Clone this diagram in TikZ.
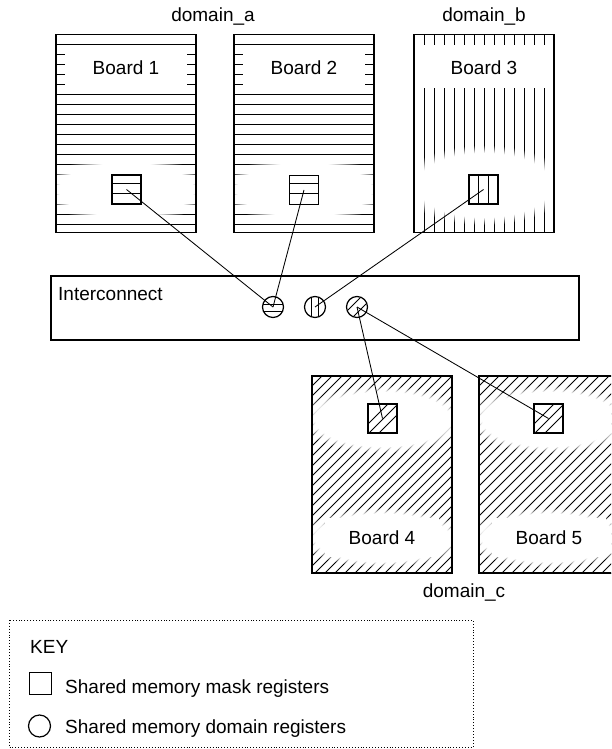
\documentclass[tikz,border=0pt]{standalone}
\usepackage{fontspec}
\setmainfont{Liberation Sans}
\usetikzlibrary{fadings}
\begin{document}
\begin{tikzpicture}[x=1pt,y=-1pt,
  lbl/.style={font=\fontsize{19}{23}\selectfont, inner sep=0pt},
  boardline/.style={draw=black, line width=1.8pt},
  hatch/.style={line width=0.95pt},
  link/.style={line width=0.85pt},
  glow/.style={white, path fading=circle with fuzzy edge 20 percent},
  regsq/.style={draw=black, fill=white, line width=1.6pt, minimum size=29pt, inner sep=0pt, outer sep=0pt},
  regci/.style={circle, draw=black, fill=white, line width=1.2pt, minimum size=21pt, inner sep=0pt, outer sep=0pt},
  hsq/.style={regsq, path picture={\begin{scope}[shift={(path picture bounding box.center)}]
     \draw[hatch] (-20,-6.5) -- (20,-6.5) (-20,3.5) -- (20,3.5);\end{scope}}},
  vsq/.style={regsq, path picture={\begin{scope}[shift={(path picture bounding box.center)}]
     \draw[hatch] (-5,-20) -- (-5,20) (5,-20) -- (5,20);\end{scope}}},
  dsq/.style={regsq, path picture={\begin{scope}[shift={(path picture bounding box.center)}]
     \foreach \d in {-9,1,11} \draw[hatch] (\d-25,25) -- (\d+25,-25);\end{scope}}},
  hci/.style={regci, path picture={\begin{scope}[shift={(path picture bounding box.center)}]
     \draw[hatch] (-15,-2.5) -- (15,-2.5) (-15,4) -- (15,4);\end{scope}}},
  vci/.style={regci, path picture={\begin{scope}[shift={(path picture bounding box.center)}]
     \draw[hatch] (-4,-15) -- (-4,15) (3.5,-15) -- (3.5,15);\end{scope}}},
  dci/.style={regci, path picture={\begin{scope}[shift={(path picture bounding box.center)}]
     \draw[hatch] (-18,12) -- (12,-18) (-12,18) -- (18,-12);\end{scope}}}
]
\clip (0,0) rectangle (611,749);
\fill[white] (0,0) rectangle (611,749);

% boards 1 and 2 (horizontal hatch)
\foreach \bx/\nm in {56/1,234/2}{
  \begin{scope}
    \clip (\bx,34.5) rectangle ++(140,198);
    \foreach \y in {44.5,54.5,...,224.5} \draw[hatch] (\bx,\y) -- ++(140,0);
    \fill[white] (\bx+9,48.5) rectangle (\bx+131,90.5);
    \fill[glow] (\bx+70,189.5) ellipse [x radius=84, y radius=34];
  \end{scope}
  \draw[boardline] (\bx,34.5) rectangle ++(140,198);
  \node[lbl, anchor=base] (t\nm) at (\bx+70,75) {Board \nm};
}

% board 3 (vertical hatch)
\begin{scope}
  \clip (414,34.5) rectangle (554,232.5);
  \foreach \x in {424.5,434.5,...,544.5} \draw[hatch] (\x,34) -- (\x,233);
  \fill[white] (414,45) rectangle (554,88);
  \fill[glow] (484,185) ellipse [x radius=84, y radius=40];
\end{scope}
\draw[boardline] (414,34.5) rectangle (554,232.5);
\node[lbl, anchor=base] (t3) at (484,75) {Board 3};

% boards 4 and 5 (diagonal hatch)
\foreach \bx/\nm in {312/4,479/5}{
  \begin{scope}
    \clip (\bx,376) rectangle ++(140,197);
    \foreach \k in {0,...,36} \draw[hatch] (\bx-214+10*\k,580) -- ++(220,-220);
    \fill[glow] (\bx+70.5,419) ellipse [x radius=84, y radius=34];
    \fill[white] (\bx+13,518) rectangle (\bx+127,557);
    \fill[glow] (\bx+70,537.5) ellipse [x radius=84, y radius=30];
  \end{scope}
  \draw[boardline] (\bx,376) rectangle ++(140,197);
  \node[lbl, anchor=base] (t\nm) at (\bx+70,544) {Board \nm};
}

% domain labels
\node[lbl, anchor=base] (da) at (213,21.5) {domain\_a};
\node[lbl, anchor=base] (db) at (484,21.5) {domain\_b};
\node[lbl, anchor=base] (dc) at (464,597.5) {domain\_c};

% interconnect
\draw[boardline] (51,276) rectangle (579,340);
\node[lbl, anchor=base west] (ic) at (58,300) {Interconnect};

% registers
\node[hsq] (r1) at (126.5,189.5) {};
\node[hsq] (r2) at (304,190) {};
\node[vsq] (r3) at (483.5,189.5) {};
\node[dsq] (r4) at (382.5,418.5) {};
\node[dsq] (r5) at (548.5,418.5) {};
\node[hci] (c1) at (273,307) {};
\node[vci] (c2) at (315,307) {};
\node[dci] (c3) at (357,307) {};

% connectors
\draw[link] (r1.center) -- (c1.center);
\draw[link] (r2.center) -- (c1.center);
\draw[link] (r3.center) -- (c2.center);
\draw[link] (c3.center) -- (r4.center);
\draw[link] (c3.center) -- (r5.center);

% key
\draw[dotted, line width=0.9pt] (9,620) rectangle (473,747);
\node[lbl, anchor=base west] (key) at (30,653) {KEY};
\node[regsq, minimum size=22pt] (ksq) at (40.5,683.5) {};
\node[lbl, anchor=base west] (k1) at (65,693) {Shared memory mask registers};
\node[regci, minimum size=22pt] (kci) at (39.5,726) {};
\node[lbl, anchor=base west] (k2) at (65,733) {Shared memory domain registers};
\end{tikzpicture}
\end{document}
